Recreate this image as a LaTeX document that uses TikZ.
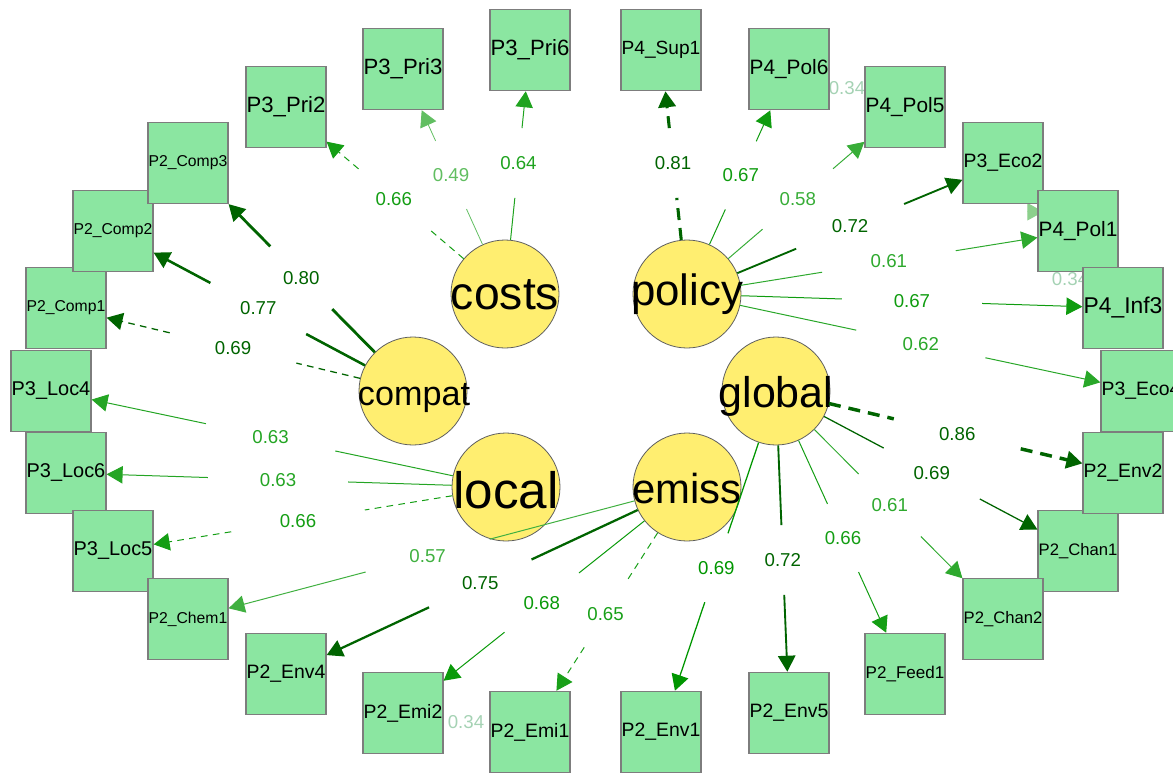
\documentclass[tikz,border=0pt]{standalone}
\usepackage{fontspec}
\usepackage{graphicx}
\setmainfont{Liberation Sans}
\usetikzlibrary{arrows.meta,shapes.geometric,calc}
\pgfdeclarelayer{bg}
\pgfsetlayers{bg,main}
\definecolor{boxfill}{RGB}{139,230,161}
\definecolor{boxline}{RGB}{125,125,125}
\definecolor{latfill}{RGB}{255,238,112}
\definecolor{latline}{RGB}{95,95,95}
\definecolor{dk}{RGB}{0,100,0}
\definecolor{gr}{RGB}{0,150,0}
\colorlet{c49}{gr!62!white}
\colorlet{c57}{gr!75!white}
\colorlet{c58}{gr!78!white}
\colorlet{c61}{gr!82!white}
\colorlet{c62}{gr!84!white}
\colorlet{c63}{gr!86!white}
\colorlet{c64}{gr!88!white}
\colorlet{c65}{gr!90!white}
\colorlet{c66}{gr!92!white}
\colorlet{c67}{gr!94!white}
\colorlet{c68}{gr!96!white}
\colorlet{c69}{gr}
\definecolor{faint}{RGB}{165,210,180}
\colorlet{faintarrow}{gr!45!white}
\newcommand{\boxtxt}[1]{\resizebox{59pt}{!}{#1}}
\newcommand{\lattxt}[2]{\resizebox{#1}{!}{#2}}
\newcommand{\loadedge}[7]{%
  \node[lab, text=#5] (#7) at ($(#1)!(#4)!(#2)$) {#3};
  \draw[draw=#5, #6] (#1) -- (#7);
  \draw[draw=#5, #6, -{Triangle[length=12pt,width=13pt]}] (#7) -- (#2);}
\begin{document}
\begin{tikzpicture}[x=0.75pt,y=-0.75pt,
  lat/.style={circle, draw=latline, fill=latfill, minimum size=81pt, inner sep=0pt, line width=0.6pt},
  latlab/.style={anchor=base, inner sep=0pt},
  ind/.style={rectangle, draw=boxline, fill=boxfill, minimum width=60pt, minimum height=61pt, inner sep=0pt, line width=0.9pt},
  lab/.style={ellipse, minimum width=105pt, minimum height=52pt, inner sep=0pt, font=\fontsize{14}{16}\selectfont},
  faintlab/.style={inner sep=0pt, text=faint, font=\fontsize{14}{16}\selectfont},
  w05/.style={line width=0.6pt},
  w1/.style={line width=0.75pt},
  w69/.style={line width=0.95pt},
  w72/.style={line width=1.4pt},
  w75/.style={line width=1.7pt},
  w77/.style={line width=1.9pt},
  w80/.style={line width=2.1pt},
  w81/.style={line width=2.3pt},
  w86/.style={line width=2.6pt},
  dshthin/.style={dash pattern=on 5pt off 4pt},
  dshk/.style={dash pattern=on 9pt off 6pt}]
\useasboundingbox (0,0) rectangle (1173,774);
% indicators
\node[ind] (P2Comp1) at (66,308) {\boxtxt{P2\_Comp1}};
\node[ind] (P2Comp2) at (113,231) {\boxtxt{P2\_Comp2}};
\node[ind] (P2Comp3) at (188,163) {\boxtxt{P2\_Comp3}};
\node[ind] (P3Loc4) at (51,391) {\boxtxt{P3\_Loc4}};
\node[ind] (P3Loc6) at (66,473) {\boxtxt{P3\_Loc6}};
\node[ind] (P3Loc5) at (113,551) {\boxtxt{P3\_Loc5}};
\node[ind] (P2Chem1) at (188,619) {\boxtxt{P2\_Chem1}};
\node[ind] (P2Env4) at (286,674) {\boxtxt{P2\_Env4}};
\node[ind] (P2Emi2) at (403,713) {\boxtxt{P2\_Emi2}};
\node[ind] (P2Emi1) at (530,732) {\boxtxt{P2\_Emi1}};
\node[ind] (P2Env1) at (661,732) {\boxtxt{P2\_Env1}};
\node[ind] (P2Env5) at (789,713) {\boxtxt{P2\_Env5}};
\node[ind] (P2Feed1) at (905,674) {\boxtxt{P2\_Feed1}};
\node[ind] (P2Chan1) at (1078,551) {\boxtxt{P2\_Chan1}};
\node[ind] (P2Chan2) at (1003,619) {\boxtxt{P2\_Chan2}};
\node[ind] (P2Env2) at (1123,473) {\boxtxt{P2\_Env2}};
\node[ind] (P3Eco4) at (1141,391) {\boxtxt{P3\_Eco4}};
\node[ind] (P3Eco2) at (1003,163) {\boxtxt{P3\_Eco2}};
\node[ind] (P4Pol1) at (1078,231) {\boxtxt{P4\_Pol1}};
\node[ind] (P4Inf3) at (1123,308) {\boxtxt{P4\_Inf3}};
\node[ind] (P4Pol5) at (905,107) {\boxtxt{P4\_Pol5}};
\node[ind] (P4Pol6) at (789,69) {\boxtxt{P4\_Pol6}};
\node[ind] (P4Sup1) at (661,50) {\boxtxt{P4\_Sup1}};
\node[ind] (P3Pri6) at (530,50) {\boxtxt{P3\_Pri6}};
\node[ind] (P3Pri3) at (403,69) {\boxtxt{P3\_Pri3}};
\node[ind] (P3Pri2) at (286,107) {\boxtxt{P3\_Pri2}};
% latent variables
\node[lat] (costs) at (505,294) {};
\node[latlab] (costs-t) at (505,309) {\lattxt{81pt}{costs}};
\node[lat] (policy) at (687,294) {};
\node[latlab] (policy-t) at (687,305) {\lattxt{84pt}{policy}};
\node[lat] (compat) at (413,391) {};
\node[latlab] (compat-t) at (414,405) {\lattxt{84pt}{compat}};
\node[lat] (global) at (776,391) {};
\node[latlab] (global-t) at (776,407) {\lattxt{86pt}{global}};
\node[lat] (local) at (506,487) {};
\node[latlab] (local-t) at (506,508) {\lattxt{79pt}{local}};
\node[lat] (emiss) at (687,487) {};
\node[latlab] (emiss-t) at (687,503) {\lattxt{82pt}{emiss}};
% residual covariance remnants (behind the boxes)
\begin{pgfonlayer}{bg}
\node[faintlab] (cov1) at (847,88) {0.34};
\node[faintlab] (cov2) at (1070,279) {0.34};
\node[faintlab] (cov3) at (466,722) {0.34};
\node[faintlab] (cov4) at (1040,585) {0.34};
\draw[draw=faintarrow, line width=0.75pt, -{Triangle[length=12pt,width=13pt]}]
  ($(P3Eco2.south east)+(-14,0)$) .. controls ($(P3Eco2.south east)+(-14,8)$) and ($(P4Pol1.north west)+(-8,22)$) .. ($(P4Pol1.north west)+(6,22)$);
\end{pgfonlayer}
% loadings
\loadedge{costs}{P3Pri2}{0.66}{393,200}{c66}{w1,dshthin}{e1}
\loadedge{costs}{P3Pri3}{0.49}{451,175}{c49}{w05}{e2}
\loadedge{costs}{P3Pri6}{0.64}{518,163}{c64}{w1}{e3}
\loadedge{policy}{P4Sup1}{0.81}{673,163}{dk}{w81,dshk}{e4}
\loadedge{policy}{P4Pol6}{0.67}{740,175}{c67}{w1}{e5}
\loadedge{policy}{P4Pol5}{0.58}{797,198}{c58}{w1}{e6}
\loadedge{policy}{P3Eco2}{0.72}{850,226}{dk}{w72}{e7}
\loadedge{policy}{P4Pol1}{0.61}{889,262}{c61}{w1}{e8}
\loadedge{policy}{P4Inf3}{0.67}{912,300}{c67}{w1}{e9}
\loadedge{policy}{P3Eco4}{0.62}{921,343}{c62}{w1}{e10}
\loadedge{compat}{P2Comp3}{0.80}{302,277}{dk}{w80}{e11}
\loadedge{compat}{P2Comp2}{0.77}{258,309}{dk}{w77}{e12}
\loadedge{compat}{P2Comp1}{0.69}{233,348}{dk}{w69,dshthin}{e13}
\loadedge{local}{P3Loc4}{0.63}{270,440}{c63}{w1}{e14}
\loadedge{local}{P3Loc6}{0.63}{278,482}{c63}{w1}{e15}
\loadedge{local}{P3Loc5}{0.66}{298,521}{c66}{w1,dshthin}{e16}
\loadedge{emiss}{P2Chem1}{0.57}{428,557}{c57}{w1}{e17}
\loadedge{emiss}{P2Env4}{0.75}{481,585}{dk}{w75}{e18}
\loadedge{emiss}{P2Emi2}{0.68}{542,603}{c68}{w1}{e19}
\loadedge{emiss}{P2Emi1}{0.65}{607,615}{c65}{w1,dshthin}{e20}
\loadedge{global}{P2Env1}{0.69}{717,568}{c69}{w69}{e21}
\loadedge{global}{P2Env5}{0.72}{783,560}{dk}{w72}{e22}
\loadedge{global}{P2Feed1}{0.66}{843,538}{c66}{w1}{e23}
\loadedge{global}{P2Chan2}{0.61}{889,506}{c61}{w1}{e24}
\loadedge{global}{P2Chan1}{0.69}{932,473}{dk}{w69}{e25}
\loadedge{global}{P2Env2}{0.86}{957,435}{dk}{w86,dshk}{e26}
\end{tikzpicture}
\end{document}
